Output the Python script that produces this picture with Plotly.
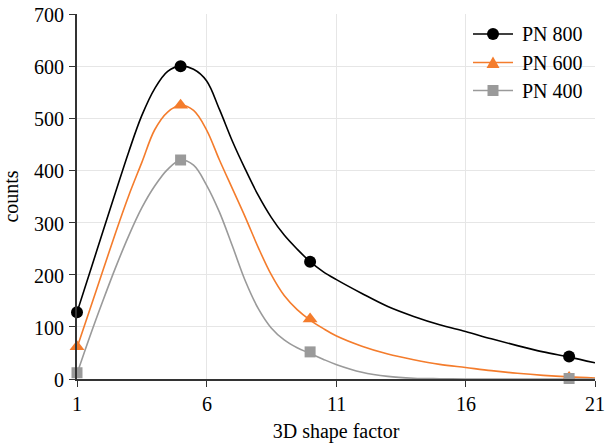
import plotly.graph_objects as go

# Measured counts at each 3D shape factor
shape_factor = [1, 5, 10, 20]
pn800 = [128, 600, 225, 43]
pn600 = [62, 525, 115, 3]
pn400 = [12, 420, 52, 1]

# Smoothed fit curves through each series
fit_x = [1, 1.5, 2, 2.5, 3, 3.5, 4, 4.5, 5, 5.5, 6, 6.5, 7, 7.5, 8, 8.5, 9, 9.5,
         10, 10.5, 11, 12, 13, 14, 15, 16, 17, 18, 19, 20, 21]
fit800_y = [128, 205, 283, 360, 436, 505, 557, 590, 600, 594, 572, 517, 456, 402,
            352, 310, 276, 249, 225, 206, 191, 164, 139, 120, 104, 91, 77, 64, 52, 42, 31]
fit600_y = [60, 134, 208, 282, 352, 415, 478, 512, 525, 515, 478, 420, 365, 310,
            252, 200, 160, 133, 113, 97, 83, 63, 48, 37, 28, 22, 16, 11, 7, 4, 2]
fit400_y = [10, 82, 150, 215, 275, 328, 370, 402, 420, 410, 372, 320, 255, 188,
            135, 98, 75, 60, 49, 38, 28, 13, 5, 1.5, 0.5, 0, 0, 0, 0, 0, 0]

x_ticks = [1, 6, 11, 16, 21]
y_ticks = [0, 100, 200, 300, 400, 500, 600, 700]

series_names = ["PN 800", "PN 600", "PN 400"]
series_vals = [pn800, pn600, pn400]
series_fits = [fit800_y, fit600_y, fit400_y]
colors = ["#000000", "#F47C2C", "#9A9A9A"]
symbols = ["circle", "triangle-up", "square"]
sizes = [12, 13, 11]

TITLE_FONT = dict(family="Liberation Serif", size=20, color="#000000")
LABEL_FONT = dict(family="serif", size=20, color="#000000")

fig = go.Figure()
for fy, color in zip(series_fits, colors):
    fig.add_trace(go.Scatter(
        x=fit_x, y=fy, mode="lines",
        line=dict(color=color, width=1.6, shape="spline", smoothing=1.0),
        showlegend=False, hoverinfo="skip",
    ))
for name, vals, color, symbol, size in zip(series_names, series_vals, colors, symbols, sizes):
    fig.add_trace(go.Scatter(
        x=shape_factor, y=vals, mode="markers", name=name,
        marker=dict(color=color, symbol=symbol, size=size),
        showlegend=False, cliponaxis=False,
    ))

axis_common = dict(
    showgrid=True, gridcolor="#e6e6e6", gridwidth=1,
    showline=True, linecolor="#333333", linewidth=1.6,
    ticks="outside", ticklen=6, tickcolor="#333333", tickwidth=1.4,
    zeroline=False, automargin=False, showticklabels=False,
)

annotations = []
# tick labels as text annotations in the serif face
for v in x_ticks:
    annotations.append(dict(x=v, xref="x", y=0, yref="paper", text=str(v),
                            showarrow=False, xanchor="center", yanchor="middle",
                            yshift=-25, font=LABEL_FONT))
for v in y_ticks:
    annotations.append(dict(x=0, xref="paper", y=v, yref="y", text=str(v),
                            showarrow=False, xanchor="right", yanchor="middle",
                            xshift=-11, yshift=-1, font=LABEL_FONT))

# legend block in the top-right corner, offsets in pixels from the plot corner
shapes = []
row_offsets = [-20, -48.5, -76.5]
for name, color, symbol, dy in zip(series_names, colors, symbols, row_offsets):
    common = dict(xref="paper", yref="paper", xsizemode="pixel", ysizemode="pixel",
                  xanchor=1, yanchor=1)
    shapes.append(dict(type="line", x0=-122, x1=-82, y0=dy, y1=dy,
                       line=dict(color=color, width=1.6), **common))
    if symbol == "circle":
        shapes.append(dict(type="circle", x0=-108, x1=-96, y0=dy - 6, y1=dy + 6,
                           fillcolor=color, line=dict(width=0), **common))
    elif symbol == "triangle-up":
        shapes.append(dict(type="path",
                           path=f"M -108.5,{dy - 5.5} L -95.5,{dy - 5.5} L -102,{dy + 6} Z",
                           fillcolor=color, line=dict(width=0), **common))
    else:
        shapes.append(dict(type="rect", x0=-107.5, x1=-96.5, y0=dy - 5.5, y1=dy + 5.5,
                           fillcolor=color, line=dict(width=0), **common))
    annotations.append(dict(x=1, xref="paper", y=1, yref="paper", text=name,
                            showarrow=False, xanchor="left", yanchor="middle",
                            xshift=-75, yshift=dy, font=LABEL_FONT))

fig.update_layout(
    width=606, height=448,
    margin=dict(l=77, r=11, t=14, b=69),
    paper_bgcolor="white", plot_bgcolor="white",
    font=TITLE_FONT,
    showlegend=False,
    xaxis=dict(range=[1, 21], tickvals=x_ticks,
               title=dict(text="3D shape factor", font=TITLE_FONT, standoff=38),
               **axis_common),
    yaxis=dict(range=[0, 700], tickvals=y_ticks,
               title=dict(text="counts", font=TITLE_FONT, standoff=52),
               **axis_common),
    annotations=annotations,
    shapes=shapes,
)

fig.write_html("out.html")
